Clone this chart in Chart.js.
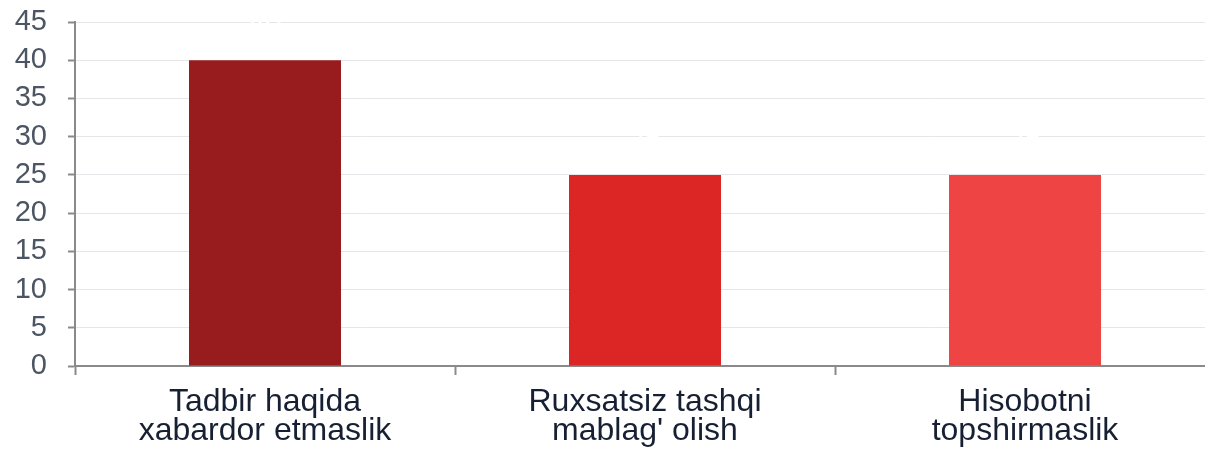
<!doctype html>
<html>
<head>
  <meta charset="utf-8">
  <script src="https://cdn.jsdelivr.net/npm/chart.js@4/dist/chart.umd.min.js"></script>
  <style>
    html, body { margin: 0; padding: 0; background: #fff; overflow: hidden; }
    #wrap { width: 1215px; height: 457px; }
  </style>
</head>
<body>
  <div id="wrap"><canvas id="canvas" width="1215" height="457"></canvas></div>
  <script>
    const categories = [
      ['Tadbir haqida', 'xabardor etmaslik'],
      ['Ruxsatsiz tashqi', "mablag' olish"],
      ['Hisobotni', 'topshirmaslik']
    ];
    const values = [40, 25, 25];
    const barColors = ['#981B1E', '#DC2626', '#EF4444'];

    // white value labels above bars (barely visible on white background)
    const whiteLabels = {
      id: 'whiteLabels',
      afterDatasetsDraw(chart) {
        const ctx = chart.ctx;
        const meta = chart.getDatasetMeta(0);
        ctx.save();
        ctx.fillStyle = '#ffffff';
        ctx.font = '30px "Liberation Sans", Arial, sans-serif';
        ctx.textAlign = 'center';
        ctx.textBaseline = 'bottom';
        meta.data.forEach((bar, i) => {
          ctx.fillText(String(values[i]), bar.x, bar.y - 20);
        });
        ctx.restore();
      }
    };

    Chart.defaults.font.family = '"Liberation Sans", Arial, sans-serif';

    new Chart(document.getElementById('canvas').getContext('2d'), {
      type: 'bar',
      data: {
        labels: categories,
        datasets: [{
          data: values,
          backgroundColor: barColors,
          barPercentage: 0.4,
          categoryPercentage: 1.0
        }]
      },
      options: {
        responsive: false,
        animation: false,
        layout: { padding: { top: 22, right: 0, bottom: 0, left: 0 } },
        plugins: {
          legend: { display: false },
          tooltip: { enabled: false }
        },
        scales: {
          x: {
            offset: true,
            afterFit(scale) { scale.height = 91; },
            grid: {
              offset: true,
              drawOnChartArea: false,
              drawTicks: true,
              tickLength: 9,
              tickColor: '#8a8a8a',
              tickWidth: 2
            },
            border: { color: '#8a8a8a', width: 2 },
            ticks: {
              color: '#172033',
              font: { size: 32, lineHeight: 0.92 },
              padding: 12,
              maxRotation: 0,
              autoSkip: false
            }
          },
          y: {
            min: 0,
            max: 45,
            afterFit(scale) {
              scale.width = 75;
              scale.paddingTop = 0;
              scale.paddingBottom = 0;
            },
            grid: {
              color: '#e6e6ea',
              lineWidth: 1,
              tickLength: 7,
              tickColor: '#8a8a8a',
              tickWidth: 2
            },
            border: { color: '#8a8a8a', width: 2 },
            ticks: {
              stepSize: 5,
              autoSkip: false,
              color: '#4b5563',
              font: { size: 29 },
              padding: 21
            }
          }
        }
      },
      plugins: [whiteLabels]
    });
  </script>
</body>
</html>
